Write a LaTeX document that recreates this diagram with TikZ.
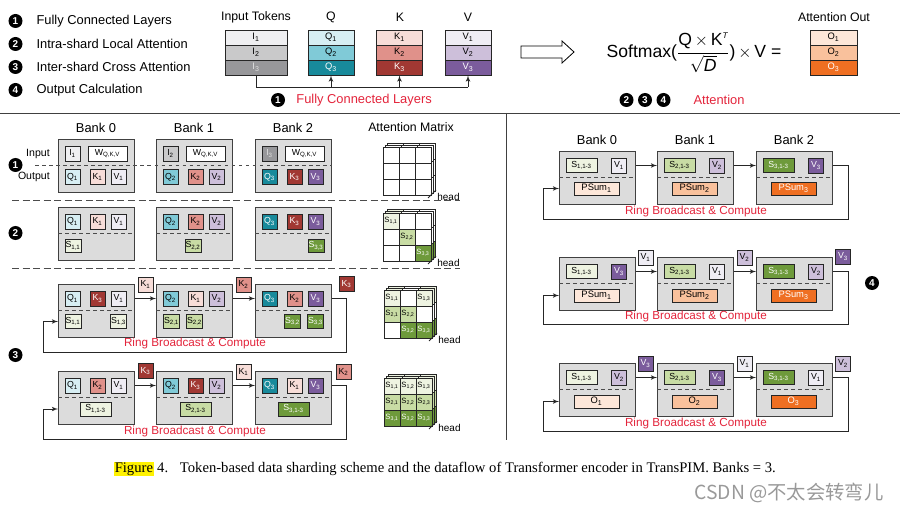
\documentclass[tikz,border=0pt]{standalone}
\usepackage{amsmath}
\usepackage{fontspec}
\setmainfont{Liberation Sans}
\newfontfamily\capfont{Liberation Serif}
\newfontfamily\cjkfont{Noto Sans CJK SC}
\usetikzlibrary{arrows,calc,positioning}

\definecolor{ione}{HTML}{EFEFF1}
\definecolor{itwo}{HTML}{C9C9CA}
\definecolor{ithree}{HTML}{97979A}
\definecolor{qone}{HTML}{D7EEF3}
\definecolor{qtwo}{HTML}{80CAD7}
\definecolor{qthree}{HTML}{188A9B}
\definecolor{kone}{HTML}{F7DDD8}
\definecolor{ktwo}{HTML}{E0918A}
\definecolor{kthree}{HTML}{A13833}
\definecolor{vone}{HTML}{EFEDF4}
\definecolor{vtwo}{HTML}{CDBFDA}
\definecolor{vthree}{HTML}{7B5C9C}
\definecolor{oone}{HTML}{FDE7D9}
\definecolor{otwo}{HTML}{F9C19C}
\definecolor{othree}{HTML}{EF6F22}
\definecolor{sone}{HTML}{EEF3E1}
\definecolor{stwo}{HTML}{C8DCA4}
\definecolor{sthree}{HTML}{6E9A3B}
\definecolor{bankgray}{HTML}{DCDCDC}
\definecolor{ringred}{HTML}{E3243B}

\newcommand{\sbs}[1]{\textsubscript{#1}}

\begin{document}
\begin{tikzpicture}[auto,>=latex',x=0.03cm,y=-0.03cm,line width=0.7pt]
	\tikzstyle{bankbox} = [draw=black!75, fill=bankgray, line width=0.9pt, rectangle, anchor=north west, minimum width=2.28cm, minimum height=1.59cm, inner sep=0pt]
	\tikzstyle{cell} = [draw=black!85, line width=0.8pt, rectangle, minimum width=0.45cm, minimum height=0.45cm, inner sep=0pt, font=\fontsize{7.5}{8}\selectfont]
	\tikzstyle{scell} = [cell, minimum width=0.48cm, minimum height=0.4cm]
	\tikzstyle{swide} = [cell, minimum width=0.93cm, minimum height=0.42cm]
	\tikzstyle{psumbox} = [cell, minimum width=1.35cm, minimum height=0.39cm, font=\fontsize{8}{9}\selectfont]
	\tikzstyle{stackcell} = [cell, font=\fontsize{8}{9}\selectfont]
	\tikzstyle{mcell} = [draw=black!85, line width=0.8pt, rectangle, fill=white, minimum size=0.48cm, inner sep=0pt, font=\fontsize{6.5}{7}\selectfont]
	\tikzstyle{numdot} = [circle, fill=black, text=white, inner sep=0pt, minimum size=0.42cm, font=\bfseries\fontsize{8.5}{9}\selectfont]
	\tikzstyle{legend} = [font=\fontsize{11}{13}\selectfont]
	\tikzstyle{ttl} = [font=\fontsize{10.5}{12}\selectfont]
	\tikzstyle{banktl} = [font=\fontsize{11}{13}\selectfont]
	\tikzstyle{ringlbl} = [text=ringred, font=\fontsize{10}{12}\selectfont]
	\tikzstyle{sepline} = [draw=black!70, dashed, line width=0.7pt]
	\tikzstyle{rowsep} = [draw=black!70, dash pattern=on 6pt off 3pt, line width=0.8pt]
	\tikzstyle{link} = [draw=black!85, line width=0.8pt]

	\useasboundingbox (0,0) rectangle (900,512);

	% legend
	\node [numdot] (lg1) at (15.5,21) {1};
	\node [numdot] (lg2) at (15.5,44) {2};
	\node [numdot] (lg3) at (15.5,67) {3};
	\node [numdot] (lg4) at (15.5,90) {4};
	\node [legend, right = 0.28cm of lg1] {Fully Connected Layers};
	\node [legend, right = 0.28cm of lg2] {Intra-shard Local Attention};
	\node [legend, right = 0.28cm of lg3] {Inter-shard Cross Attention};
	\node [legend, right = 0.28cm of lg4] {Output Calculation};

	% input tokens and Q, K, V
	\node [ttl] (tin) at (256,17) {Input Tokens};
	\node [ttl] (tq) at (331,17) {Q};
	\node [ttl] (tk) at (400,17) {K};
	\node [ttl] (tv) at (468,17) {V};
	\node [stackcell, minimum width=1.86cm, fill=ione] (i1) at (256,37.5) {I\sbs{1}};
	\node [stackcell, minimum width=1.86cm, fill=itwo] (i2) at (256,52.5) {I\sbs{2}};
	\node [stackcell, minimum width=1.86cm, fill=ithree, text=black!12] (i3) at (256,67.5) {I\sbs{3}};
	\node [stackcell, minimum width=1.38cm, fill=qone] (q1) at (331,37.5) {Q\sbs{1}};
	\node [stackcell, minimum width=1.38cm, fill=qtwo] (q2) at (331,52.5) {Q\sbs{2}};
	\node [stackcell, minimum width=1.38cm, fill=qthree, text=white] (q3) at (331,67.5) {Q\sbs{3}};
	\node [stackcell, minimum width=1.36cm, fill=kone] (k1) at (399.5,37.5) {K\sbs{1}};
	\node [stackcell, minimum width=1.36cm, fill=ktwo] (k2) at (399.5,52.5) {K\sbs{2}};
	\node [stackcell, minimum width=1.36cm, fill=kthree, text=white] (k3) at (399.5,67.5) {K\sbs{3}};
	\node [stackcell, minimum width=1.38cm, fill=vone] (v1) at (468,37.5) {V\sbs{1}};
	\node [stackcell, minimum width=1.38cm, fill=vtwo] (v2) at (468,52.5) {V\sbs{2}};
	\node [stackcell, minimum width=1.38cm, fill=vthree, text=white] (v3) at (468,67.5) {V\sbs{3}};

	\coordinate (busl) at (256,87);
	\coordinate (busr) at (468,87);
	\draw [link] (i3) -- (busl) -- (busr);
	\draw [link, ->] (busr) -- (v3);
	\draw [link, ->] (busl -| q3) -- (q3);
	\draw [link, ->] (busl -| k3) -- (k3);
	\node [numdot] (fc) at (278,100) {1};
	\node [ringlbl, font=\fontsize{11}{13}\selectfont, right = 0.2cm of fc] {Fully Connected Layers};

	% hollow arrow and formula
	\draw [line width=0.7pt, fill=white] (521,46) -- (562,46) -- (562,41) -- (574,52) -- (562,63) -- (562,58) -- (521,58) -- cycle;
	\node [font=\fontsize{15}{18}\selectfont] (smax) at (694,53) {Softmax($\dfrac{\text{Q}\,{\times}\,\text{K}^{\textit{\scriptsize T}}}{\sqrt{\textit{D}}}$)\,$\times$\,V =};
	\node [ttl] (tout) at (834,17) {Attention Out};
	\node [stackcell, minimum width=1.41cm, fill=oone] (o1) at (833.5,37.5) {O\sbs{1}};
	\node [stackcell, minimum width=1.41cm, fill=otwo] (o2) at (833.5,52.5) {O\sbs{2}};
	\node [stackcell, minimum width=1.41cm, fill=othree, text=white] (o3) at (833.5,67.5) {O\sbs{3}};
	\node [numdot] (at2) at (626.5,100) {2};
	\node [numdot] (at3) at (645,100) {3};
	\node [numdot] (at4) at (663.5,100) {4};
	\node [ringlbl, font=\fontsize{11}{13}\selectfont] (attn) at (719,100) {Attention};

	% frame
	\draw [draw=black!75, line width=0.8pt] (0,113) -- (900,113);
	\draw [draw=black!75, line width=0.8pt] (506,113) -- (506,440);

	% left panel titles
	\node [banktl] at (96,128) {Bank 0};
	\node [banktl] at (194,128) {Bank 1};
	\node [banktl] at (293,128) {Bank 2};
	\node [ttl] at (411,127) {Attention Matrix};

	% step 1
	\node [numdot] (n1) at (15.5,165) {1};
	\node [anchor=east, font=\fontsize{9}{10}\selectfont] (lin) at (54,154) {Input};
	\node [anchor=east, font=\fontsize{9}{10}\selectfont] (lout) at (54,177) {Output};
	\node [bankbox] (a0) at (58,139) {};
	\node [bankbox] (a1) at (156,139) {};
	\node [bankbox] (a2) at (255,139) {};
	\node [cell, fill=ione] (a0i) at (72.5,153.5) {I\sbs{1}};
	\node [cell, fill=white, minimum width=1.17cm] (a0w) at (107.5,153.5) {W\sbs{Q,K,V}};
	\node [cell, fill=qone] (a0q) at (72.5,177) {Q\sbs{1}};
	\node [cell, fill=kone] (a0k) at (97.5,177) {K\sbs{1}};
	\node [cell, fill=vone] (a0v) at (118.5,177) {V\sbs{1}};
	\node [cell, fill=itwo] (a1i) at (170.5,153.5) {I\sbs{2}};
	\node [cell, fill=white, minimum width=1.17cm] (a1w) at (205.5,153.5) {W\sbs{Q,K,V}};
	\node [cell, fill=qtwo] (a1q) at (170.5,177) {Q\sbs{2}};
	\node [cell, fill=ktwo] (a1k) at (195.5,177) {K\sbs{2}};
	\node [cell, fill=vtwo] (a1v) at (216.5,177) {V\sbs{2}};
	\node [cell, fill=ithree, text=black!12] (a2i) at (269.5,153.5) {I\sbs{3}};
	\node [cell, fill=white, minimum width=1.17cm] (a2w) at (304.5,153.5) {W\sbs{Q,K,V}};
	\node [cell, fill=qthree, text=white] (a2q) at (269.5,177) {Q\sbs{3}};
	\node [cell, fill=kthree, text=white] (a2k) at (294.5,177) {K\sbs{3}};
	\node [cell, fill=vthree, text=white] (a2v) at (315.5,177) {V\sbs{3}};
	\draw [sepline] (35,165) -- (332,165);
	\draw [rowsep] (12,200) -- (460,200);

	\foreach \dx in {4,2,0}
		\foreach \row in {1,2,3}
			\foreach \col in {1,2,3}
				\node [mcell] at ({383+\dx+16*\col-8},{147-\dx+16*\row-8}) {};
	\coordinate (ma1) at (431,195);
	\draw [link] ($(ma1)+(-3,3)$) -- ($(ma1)+(5,-5)$);
	\node [anchor=west, font=\fontsize{8.5}{9}\selectfont, inner sep=0pt] at ($(ma1)+(6,2)$) {head};

	% step 2
	\node [numdot] (n2) at (15.5,233) {2};
	\node [bankbox] (b0) at (58,207) {};
	\node [bankbox] (b1) at (156,207) {};
	\node [bankbox] (b2) at (255,207) {};
	\draw [sepline] ($(b0.north west)+(0,26)$) -- ($(b0.north east)+(0,26)$);
	\draw [sepline] ($(b1.north west)+(0,26)$) -- ($(b1.north east)+(0,26)$);
	\draw [sepline] ($(b2.north west)+(0,26)$) -- ($(b2.north east)+(0,26)$);
	\node [cell, fill=qone] (b0q) at (72.5,221.5) {Q\sbs{1}};
	\node [cell, fill=kone] (b0k) at (97.5,221.5) {K\sbs{1}};
	\node [cell, fill=vone] (b0v) at (118.5,221.5) {V\sbs{1}};
	\node [scell, fill=sone] (b0s) at (73,246) {S\sbs{1,1}};
	\node [cell, fill=qtwo] (b1q) at (170.5,221.5) {Q\sbs{2}};
	\node [cell, fill=ktwo] (b1k) at (195.5,221.5) {K\sbs{2}};
	\node [cell, fill=vtwo] (b1v) at (216.5,221.5) {V\sbs{2}};
	\node [scell, fill=stwo] (b1s) at (193,246) {S\sbs{2,2}};
	\node [cell, fill=qthree, text=white] (b2q) at (269.5,221.5) {Q\sbs{3}};
	\node [cell, fill=kthree, text=white] (b2k) at (294.5,221.5) {K\sbs{3}};
	\node [cell, fill=vthree, text=white] (b2v) at (315.5,221.5) {V\sbs{3}};
	\node [scell, fill=sthree, text=white] (b2s) at (316,246) {S\sbs{3,3}};
	\draw [rowsep] (12,268) -- (460,268);

	\foreach \dx in {4,2,0}
		\foreach \row/\col/\fc/\lbl in {1/1/sone/{S\sbs{1,1}},1/2/white/{},1/3/white/{},2/1/white/{},2/2/stwo/{S\sbs{2,2}},2/3/white/{},3/1/white/{},3/2/white/{},3/3/sthree/{\color{white}S\sbs{3,3}}}
			\node [mcell, fill=\fc] at ({383+\dx+16*\col-8},{213-\dx+16*\row-8}) {\ifnum\dx=0 \lbl\fi};
	\coordinate (ma2) at (431,261);
	\draw [link] ($(ma2)+(-3,3)$) -- ($(ma2)+(5,-5)$);
	\node [anchor=west, font=\fontsize{8.5}{9}\selectfont, inner sep=0pt] at ($(ma2)+(6,2)$) {head};

	% step 3, first round
	\node [numdot] (n3) at (15.5,355) {3};
	\node [bankbox] (c0) at (58,284) {};
	\node [bankbox] (c1) at (156,284) {};
	\node [bankbox] (c2) at (255,284) {};
	\draw [sepline] ($(c0.north west)+(0,26)$) -- ($(c0.north east)+(0,26)$);
	\draw [sepline] ($(c1.north west)+(0,26)$) -- ($(c1.north east)+(0,26)$);
	\draw [sepline] ($(c2.north west)+(0,26)$) -- ($(c2.north east)+(0,26)$);
	\node [cell, fill=qone] (c0q) at (72.5,298.5) {Q\sbs{1}};
	\node [cell, fill=kthree, text=white] (c0k) at (97.5,298.5) {K\sbs{3}};
	\node [cell, fill=vone] (c0v) at (118.5,298.5) {V\sbs{1}};
	\node [scell, fill=sone] (c0s1) at (73,321.5) {S\sbs{1,1}};
	\node [scell, fill=sone] (c0s3) at (118.5,321.5) {S\sbs{1,3}};
	\node [cell, fill=qtwo] (c1q) at (170.5,298.5) {Q\sbs{2}};
	\node [cell, fill=kone] (c1k) at (195.5,298.5) {K\sbs{1}};
	\node [cell, fill=vtwo] (c1v) at (216.5,298.5) {V\sbs{2}};
	\node [scell, fill=stwo] (c1s1) at (171.5,321.5) {S\sbs{2,1}};
	\node [scell, fill=stwo] (c1s2) at (194.5,321.5) {S\sbs{2,2}};
	\node [cell, fill=qthree, text=white] (c2q) at (269.5,298.5) {Q\sbs{3}};
	\node [cell, fill=ktwo] (c2k) at (294.5,298.5) {K\sbs{2}};
	\node [cell, fill=vthree, text=white] (c2v) at (315.5,298.5) {V\sbs{3}};
	\node [scell, fill=sthree, text=white] (c2s2) at (292.5,321.5) {S\sbs{3,2}};
	\node [scell, fill=sthree, text=white] (c2s3) at (315.5,321.5) {S\sbs{3,3}};
	\node [cell, fill=kone] (c01) at (145.5,284.5) {K\sbs{1}};
	\node [cell, fill=ktwo] (c12) at (243.5,284.5) {K\sbs{2}};
	\node [cell, fill=kthree, text=white] (c23) at (346.5,284) {K\sbs{3}};
	\coordinate (c3r) at (346,352);
	\coordinate (c3l) at (43,352);
	\draw [link, ->] (c0v -| c0.east) -- (c0v -| c1.west);
	\draw [link, ->] (c1v -| c1.east) -- (c1v -| c2.west);
	\draw [link, ->] (c2v -| c2.east) -| (c3r) -- (c3l) |- (c0s1 -| c0.west);
	\node [ringlbl] at (195,343) {Ring Broadcast \& Compute};

	\foreach \dx in {4,2,0}
		\foreach \row/\col/\fc/\lbl in {1/1/sone/{S\sbs{1,1}},1/2/white/{},1/3/sone/{S\sbs{1,3}},2/1/stwo/{S\sbs{2,1}},2/2/stwo/{S\sbs{2,2}},2/3/white/{},3/1/white/{},3/2/sthree/{\color{white}S\sbs{3,2}},3/3/sthree/{\color{white}S\sbs{3,3}}}
			\node [mcell, fill=\fc] at ({384+\dx+16*\col-8},{290-\dx+16*\row-8}) {\ifnum\dx=0 \lbl\fi};
	\coordinate (ma3) at (432,338);
	\draw [link] ($(ma3)+(-3,3)$) -- ($(ma3)+(5,-5)$);
	\node [anchor=west, font=\fontsize{8.5}{9}\selectfont, inner sep=0pt] at ($(ma3)+(6,2)$) {head};

	% step 3, last round
	\node [bankbox] (d0) at (58,371) {};
	\node [bankbox] (d1) at (156,371) {};
	\node [bankbox] (d2) at (255,371) {};
	\draw [sepline] ($(d0.north west)+(0,26)$) -- ($(d0.north east)+(0,26)$);
	\draw [sepline] ($(d1.north west)+(0,26)$) -- ($(d1.north east)+(0,26)$);
	\draw [sepline] ($(d2.north west)+(0,26)$) -- ($(d2.north east)+(0,26)$);
	\node [cell, fill=qone] (d0q) at (72.5,385.5) {Q\sbs{1}};
	\node [cell, fill=ktwo] (d0k) at (97.5,385.5) {K\sbs{2}};
	\node [cell, fill=vone] (d0v) at (118.5,385.5) {V\sbs{1}};
	\node [swide, fill=sone] (d0s) at (95.5,409) {S\sbs{1,1-3}};
	\node [cell, fill=qtwo] (d1q) at (170.5,385.5) {Q\sbs{2}};
	\node [cell, fill=kthree, text=white] (d1k) at (195.5,385.5) {K\sbs{3}};
	\node [cell, fill=vtwo] (d1v) at (216.5,385.5) {V\sbs{2}};
	\node [swide, fill=stwo] (d1s) at (195.5,409) {S\sbs{2,1-3}};
	\node [cell, fill=qthree, text=white] (d2q) at (269.5,385.5) {Q\sbs{3}};
	\node [cell, fill=kone] (d2k) at (294.5,385.5) {K\sbs{1}};
	\node [cell, fill=vthree, text=white] (d2v) at (315.5,385.5) {V\sbs{3}};
	\node [swide, fill=sthree, text=white] (d2s) at (293.5,409) {S\sbs{3,1-3}};
	\node [cell, fill=kthree, text=white] (d01) at (145.5,371) {K\sbs{3}};
	\node [cell, fill=kone] (d12) at (243.5,372) {K\sbs{1}};
	\node [cell, fill=ktwo] (d23) at (343.5,372) {K\sbs{2}};
	\coordinate (d3r) at (346,439);
	\coordinate (d3l) at (43,439);
	\draw [link, ->] (d0v -| d0.east) -- (d0v -| d1.west);
	\draw [link, ->] (d1v -| d1.east) -- (d1v -| d2.west);
	\draw [link, ->] (d2v -| d2.east) -| (d3r) -- (d3l) |- (d0s -| d0.west);
	\node [ringlbl] at (195,431) {Ring Broadcast \& Compute};

	\foreach \dx in {4,2,0}
		\foreach \row/\col/\fc/\lbl in {1/1/sone/{S\sbs{1,1}},1/2/sone/{S\sbs{1,2}},1/3/sone/{S\sbs{1,3}},2/1/stwo/{S\sbs{2,1}},2/2/stwo/{S\sbs{2,2}},2/3/stwo/{S\sbs{2,3}},3/1/sthree/{\color{white}S\sbs{3,1}},3/2/sthree/{\color{white}S\sbs{3,2}},3/3/sthree/{\color{white}S\sbs{3,3}}}
			\node [mcell, fill=\fc] at ({384+\dx+16*\col-8},{378-\dx+16*\row-8}) {\ifnum\dx=0 \lbl\fi};
	\coordinate (ma4) at (432,426);
	\draw [link] ($(ma4)+(-3,3)$) -- ($(ma4)+(5,-5)$);
	\node [anchor=west, font=\fontsize{8.5}{9}\selectfont, inner sep=0pt] at ($(ma4)+(6,2)$) {head};

	% step 4, right panel
	\node [banktl] at (597,140) {Bank 0};
	\node [banktl] at (695,140) {Bank 1};
	\node [banktl] at (794,140) {Bank 2};

	\node [bankbox] (e0) at (559,151) {};
	\node [bankbox] (e1) at (657,151) {};
	\node [bankbox] (e2) at (756,151) {};
	\draw [sepline] ($(e0.north west)+(0,26)$) -- ($(e0.north east)+(0,26)$);
	\draw [sepline] ($(e1.north west)+(0,26)$) -- ($(e1.north east)+(0,26)$);
	\draw [sepline] ($(e2.north west)+(0,26)$) -- ($(e2.north east)+(0,26)$);
	\node [swide, fill=sone] (e0s) at (581.5,165.5) {S\sbs{1,1-3}};
	\node [cell, fill=vone] (e0v) at (619,165.5) {V\sbs{1}};
	\node [psumbox, fill=oone] (e0p) at (596.5,188.5) {PSum\sbs{1}};
	\node [swide, fill=stwo] (e1s) at (679.5,165.5) {S\sbs{2,1-3}};
	\node [cell, fill=vtwo] (e1v) at (717,165.5) {V\sbs{2}};
	\node [psumbox, fill=otwo] (e1p) at (694.5,188.5) {PSum\sbs{2}};
	\node [swide, fill=sthree, text=white] (e2s) at (778.5,165.5) {S\sbs{3,1-3}};
	\node [cell, fill=vthree, text=white] (e2v) at (816,165.5) {V\sbs{3}};
	\node [psumbox, fill=othree, text=white] (e2p) at (793.5,188.5) {PSum\sbs{3}};
	\coordinate (e3r) at (848,219);
	\coordinate (e3l) at (543,219);
	\draw [link, ->] (e0v -| e0.east) -- (e0v -| e1.west);
	\draw [link, ->] (e1v -| e1.east) -- (e1v -| e2.west);
	\draw [link, ->] (e2v -| e2.east) -| (e3r) -- (e3l) |- (e0p -| e0.west);
	\node [ringlbl] at (696,211) {Ring Broadcast \& Compute};

	\node [numdot] (n4) at (872,283) {4};
	\node [bankbox] (f0) at (559,257) {};
	\node [bankbox] (f1) at (657,257) {};
	\node [bankbox] (f2) at (756,257) {};
	\draw [sepline] ($(f0.north west)+(0,26)$) -- ($(f0.north east)+(0,26)$);
	\draw [sepline] ($(f1.north west)+(0,26)$) -- ($(f1.north east)+(0,26)$);
	\draw [sepline] ($(f2.north west)+(0,26)$) -- ($(f2.north east)+(0,26)$);
	\node [swide, fill=sone] (f0s) at (581.5,271.5) {S\sbs{1,1-3}};
	\node [cell, fill=vthree, text=white] (f0v) at (619,271.5) {V\sbs{3}};
	\node [psumbox, fill=oone] (f0p) at (596.5,295.5) {PSum\sbs{1}};
	\node [swide, fill=stwo] (f1s) at (679.5,271.5) {S\sbs{2,1-3}};
	\node [cell, fill=vone] (f1v) at (717,271.5) {V\sbs{1}};
	\node [psumbox, fill=otwo] (f1p) at (694.5,295.5) {PSum\sbs{2}};
	\node [swide, fill=sthree, text=white] (f2s) at (778.5,271.5) {S\sbs{3,1-3}};
	\node [cell, fill=vtwo] (f2v) at (816,271.5) {V\sbs{2}};
	\node [psumbox, fill=othree, text=white] (f2p) at (793.5,295.5) {PSum\sbs{3}};
	\node [cell, fill=vone] (f01) at (645.5,257.5) {V\sbs{1}};
	\node [cell, fill=vtwo] (f12) at (744.5,257.5) {V\sbs{2}};
	\node [cell, fill=vthree, text=white] (f23) at (843,256.5) {V\sbs{3}};
	\coordinate (f3r) at (848,324);
	\coordinate (f3l) at (543,324);
	\draw [link, ->] (f0v -| f0.east) -- (f0v -| f1.west);
	\draw [link, ->] (f1v -| f1.east) -- (f1v -| f2.west);
	\draw [link, ->] (f2v -| f2.east) -| (f3r) -- (f3l) |- (f0p -| f0.west);
	\node [ringlbl] at (696,316) {Ring Broadcast \& Compute};

	\node [bankbox] (g0) at (559,363) {};
	\node [bankbox] (g1) at (657,363) {};
	\node [bankbox] (g2) at (756,363) {};
	\draw [sepline] ($(g0.north west)+(0,26)$) -- ($(g0.north east)+(0,26)$);
	\draw [sepline] ($(g1.north west)+(0,26)$) -- ($(g1.north east)+(0,26)$);
	\draw [sepline] ($(g2.north west)+(0,26)$) -- ($(g2.north east)+(0,26)$);
	\node [swide, fill=sone] (g0s) at (581.5,377.5) {S\sbs{1,1-3}};
	\node [cell, fill=vtwo] (g0v) at (619,377.5) {V\sbs{2}};
	\node [psumbox, fill=oone] (g0o) at (596.5,401.5) {O\sbs{1}};
	\node [swide, fill=stwo] (g1s) at (679.5,377.5) {S\sbs{2,1-3}};
	\node [cell, fill=vthree, text=white] (g1v) at (717,377.5) {V\sbs{3}};
	\node [psumbox, fill=otwo] (g1o) at (694.5,401.5) {O\sbs{2}};
	\node [swide, fill=sthree, text=white] (g2s) at (778.5,377.5) {S\sbs{3,1-3}};
	\node [cell, fill=vone] (g2v) at (816,377.5) {V\sbs{1}};
	\node [psumbox, fill=othree, text=white] (g2o) at (793.5,401.5) {O\sbs{3}};
	\node [cell, fill=vthree, text=white] (g01) at (645.5,363.5) {V\sbs{3}};
	\node [cell, fill=vone] (g12) at (744.5,363.5) {V\sbs{1}};
	\node [cell, fill=vtwo] (g23) at (843,363.5) {V\sbs{2}};
	\coordinate (g3r) at (848,431);
	\coordinate (g3l) at (543,431);
	\draw [link, ->] (g0v -| g0.east) -- (g0v -| g1.west);
	\draw [link, ->] (g1v -| g1.east) -- (g1v -| g2.west);
	\draw [link, ->] (g2v -| g2.east) -| (g3r) -- (g3l) |- (g0o -| g0.west);
	\node [ringlbl] at (696,423) {Ring Broadcast \& Compute};

	% caption
	\node [font=\capfont\fontsize{12.5}{14}\selectfont] (cap) at (445,469) {{\setlength{\fboxsep}{0.5pt}\colorbox{yellow}{Figure}} 4.\hspace{0.8em}Token-based data sharding scheme and the dataflow of Transformer encoder in TransPIM. Banks = 3.};
	\node [text=black!40, font=\cjkfont\fontsize{16.5}{18}\selectfont] (wm) at (789,493) {CSDN @不太会转弯儿};
\end{tikzpicture}
\end{document}
